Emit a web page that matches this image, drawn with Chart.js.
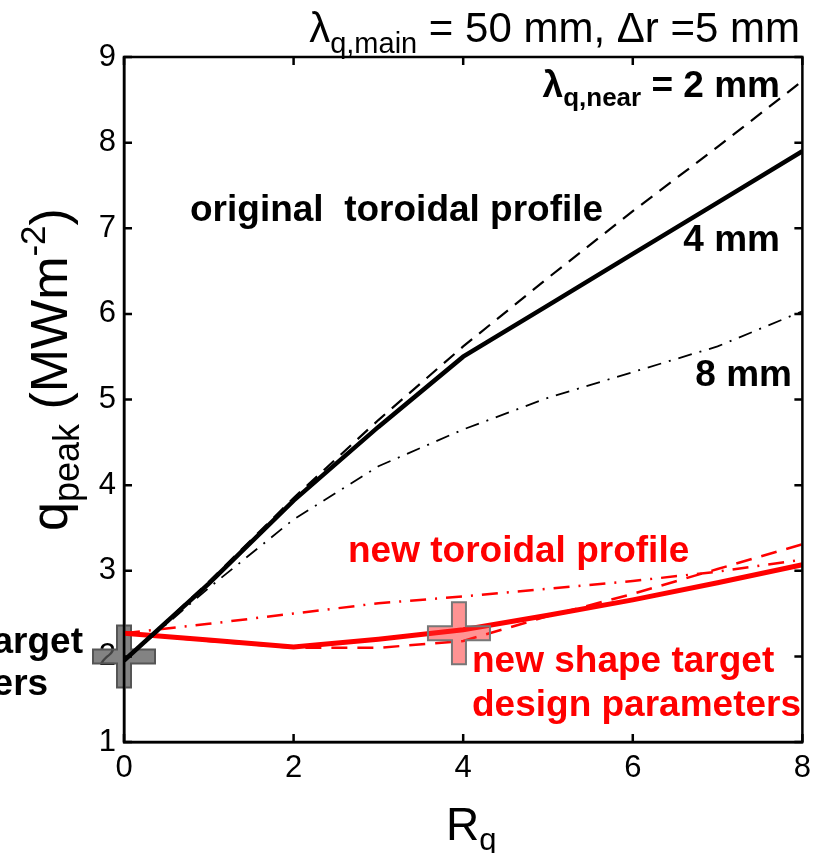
<!DOCTYPE html>
<html>
<head>
<meta charset="utf-8">
<script src="https://cdn.jsdelivr.net/npm/chart.js@4"></script>
<style>
  html, body { margin: 0; padding: 0; background: #fff; }
  #wrap { width: 819px; height: 853px; }
</style>
</head>
<body>
<div id="wrap"><canvas id="peakChart" width="819" height="853"></canvas></div>
<script>
// R_q values and q_peak (MW m^-2)
const rq = [0, 1, 2, 3, 4, 5, 6, 7, 8];

const origNear2 = [1.95, 2.87, 3.85, 4.76, 5.62, 6.42, 7.2, 7.95, 8.72];
const origNear4 = [1.95, 2.85, 3.82, 4.68, 5.5, 6.1, 6.7, 7.3, 7.9];
const origNear8 = [1.95, 2.8, 3.6, 4.22, 4.65, 5.02, 5.32, 5.62, 6.03];

const newNear2 = [2.27, 2.18, 2.1, 2.1, 2.18, 2.47, 2.73, 3.02, 3.31];
const newNear4 = [2.27, 2.19, 2.11, 2.2, 2.31, 2.48, 2.66, 2.86, 3.07];
const newNear8 = [2.27, 2.38, 2.5, 2.62, 2.7, 2.79, 2.88, 2.99, 3.13];

// design targets: original (grey) and new (red)
const targetR = [0, 3.95];
const targetQ = [2.0, 2.27];

const xTicks = [0, 2, 4, 6, 8];
const yTicks = [1, 2, 3, 4, 5, 6, 7, 8, 9];

const FONT = "'Liberation Sans', Arial, sans-serif";

function pts(ys) {
    return rq.map((x, i) => ({ x: x, y: ys[i] }));
}

function rich(ctx, x, y, parts, align) {
    let w = 0;
    parts.forEach(p => { ctx.font = p[1]; w += ctx.measureText(p[0]).width; });
    let cx = align === "right" ? x - w : x;
    parts.forEach(p => {
        ctx.font = p[1];
        ctx.fillText(p[0], cx, y + (p[2] || 0));
        cx += ctx.measureText(p[0]).width;
    });
}

function cross(ctx, cx, cy, fill, stroke) {
    const a = 31, t = 7;
    ctx.beginPath();
    ctx.moveTo(cx - t, cy - a);
    ctx.lineTo(cx + t, cy - a);
    ctx.lineTo(cx + t, cy - t);
    ctx.lineTo(cx + a, cy - t);
    ctx.lineTo(cx + a, cy + t);
    ctx.lineTo(cx + t, cy + t);
    ctx.lineTo(cx + t, cy + a);
    ctx.lineTo(cx - t, cy + a);
    ctx.lineTo(cx - t, cy + t);
    ctx.lineTo(cx - a, cy + t);
    ctx.lineTo(cx - a, cy - t);
    ctx.lineTo(cx - t, cy - t);
    ctx.closePath();
    ctx.fillStyle = fill;
    ctx.fill();
    ctx.lineWidth = 2;
    ctx.strokeStyle = stroke;
    ctx.stroke();
}

const greyTarget = {
    id: "greyTarget",
    beforeDatasetsDraw(chart) {
        const ctx = chart.ctx, xs = chart.scales.x, ys = chart.scales.y;
        ctx.save();
        cross(ctx, xs.getPixelForValue(targetR[0]), ys.getPixelForValue(targetQ[0]),
              "rgba(90,90,90,0.75)", "#555");
        ctx.restore();
    }
};

const boxAndText = {
    id: "boxAndText",
    afterDatasetsDraw(chart) {
        const ctx = chart.ctx, xs = chart.scales.x, ys = chart.scales.y;
        const a = chart.chartArea;
        ctx.save();

        cross(ctx, xs.getPixelForValue(targetR[1]), ys.getPixelForValue(targetQ[1]),
              "rgba(255,40,40,0.5)", "#777");

        // frame and inward ticks
        ctx.strokeStyle = "#000";
        ctx.lineWidth = 2.5;
        ctx.strokeRect(a.left, a.top, a.right - a.left, a.bottom - a.top);
        ctx.beginPath();
        xTicks.forEach(v => {
            const px = xs.getPixelForValue(v);
            ctx.moveTo(px, a.bottom); ctx.lineTo(px, a.bottom - 8);
            ctx.moveTo(px, a.top); ctx.lineTo(px, a.top + 8);
        });
        yTicks.forEach(v => {
            const py = ys.getPixelForValue(v);
            ctx.moveTo(a.left, py); ctx.lineTo(a.left + 8, py);
            ctx.moveTo(a.right, py); ctx.lineTo(a.right - 8, py);
        });
        ctx.stroke();

        ctx.textBaseline = "alphabetic";
        ctx.textAlign = "left";

        // title
        ctx.fillStyle = "#000";
        rich(ctx, 800, 42, [
            ["λ", "42px " + FONT],
            ["q,main", "29px " + FONT, 11],
            [" = 50 mm, Δr =5 mm", "42px " + FONT]
        ], "right");

        // axis titles
        rich(ctx, 446, 840, [["R", "46px " + FONT], ["q", "31px " + FONT, 10]]);
        ctx.save();
        ctx.translate(67, 531);
        ctx.rotate(-Math.PI / 2);
        rich(ctx, 0, 0, [
            ["q", "52px " + FONT],
            ["peak", "36px " + FONT, 12],
            [" (MWm", "52px " + FONT],
            ["-2", "35px " + FONT, -22],
            [")", "52px " + FONT]
        ]);
        ctx.restore();

        // black annotations
        const B = "bold 37px " + FONT;
        ctx.fillStyle = "#000";
        rich(ctx, 780, 97, [
            ["λ", B],
            ["q,near", "bold 26px " + FONT, 9],
            [" = 2 mm", B]
        ], "right");
        ctx.font = B;
        ctx.fillText("original  toroidal profile", 190, 221);
        ctx.textAlign = "right";
        ctx.fillText("4 mm", 780, 251);
        ctx.fillText("8 mm", 792, 386);
        ctx.fillText("original shape target", 83, 653);
        const lx = 83 - ctx.measureText("original shape target").width;
        ctx.textAlign = "left";
        ctx.fillText("design parameters", lx, 695);

        // red annotations
        ctx.fillStyle = "#ff0000";
        ctx.fillText("new toroidal profile", 348, 562);
        ctx.fillText("new shape target", 472, 672);
        ctx.fillText("design parameters", 472, 716);

        ctx.restore();
    }
};

const ctx = document.getElementById("peakChart");

new Chart(ctx, {
    type: "line",
    data: {
        datasets: [
            { label: "original, 2 mm", data: pts(origNear2), borderColor: "#000",
              borderWidth: 2.2, borderDash: [14, 9] },
            { label: "original, 8 mm", data: pts(origNear8), borderColor: "#000",
              borderWidth: 1.8, borderDash: [14, 8, 2, 8] },
            { label: "original, 4 mm", data: pts(origNear4), borderColor: "#000",
              borderWidth: 4.5 },
            { label: "new, 2 mm", data: pts(newNear2), borderColor: "#ff0000",
              borderWidth: 2.5, borderDash: [16, 10] },
            { label: "new, 8 mm", data: pts(newNear8), borderColor: "#ff0000",
              borderWidth: 2.5, borderDash: [16, 9, 2, 9] },
            { label: "new, 4 mm", data: pts(newNear4), borderColor: "#ff0000",
              borderWidth: 5 }
        ]
    },
    options: {
        responsive: false,
        animation: false,
        events: [],
        layout: { padding: { top: 57, right: 14, left: 0, bottom: 0 } },
        elements: { point: { radius: 0 }, line: { tension: 0, fill: false } },
        plugins: { legend: { display: false }, tooltip: { enabled: false } },
        scales: {
            x: {
                type: "linear", min: 0, max: 8,
                afterBuildTicks: s => { s.ticks = xTicks.map(v => ({ value: v })); },
                afterFit: s => { s.height = 111; },
                grid: { display: false, drawTicks: false },
                border: { display: true, color: "#000", width: 2.5 },
                ticks: { color: "#000", padding: 8, font: { family: FONT, size: 31 } }
            },
            y: {
                type: "linear", min: 1, max: 9,
                afterBuildTicks: s => { s.ticks = yTicks.map(v => ({ value: v })); },
                afterFit: s => { s.width = 124; },
                grid: { display: false, drawTicks: false },
                border: { display: true, color: "#000", width: 2.5 },
                ticks: { color: "#000", padding: 8, font: { family: FONT, size: 31 } }
            }
        }
    },
    plugins: [greyTarget, boxAndText]
});
</script>
</body>
</html>
